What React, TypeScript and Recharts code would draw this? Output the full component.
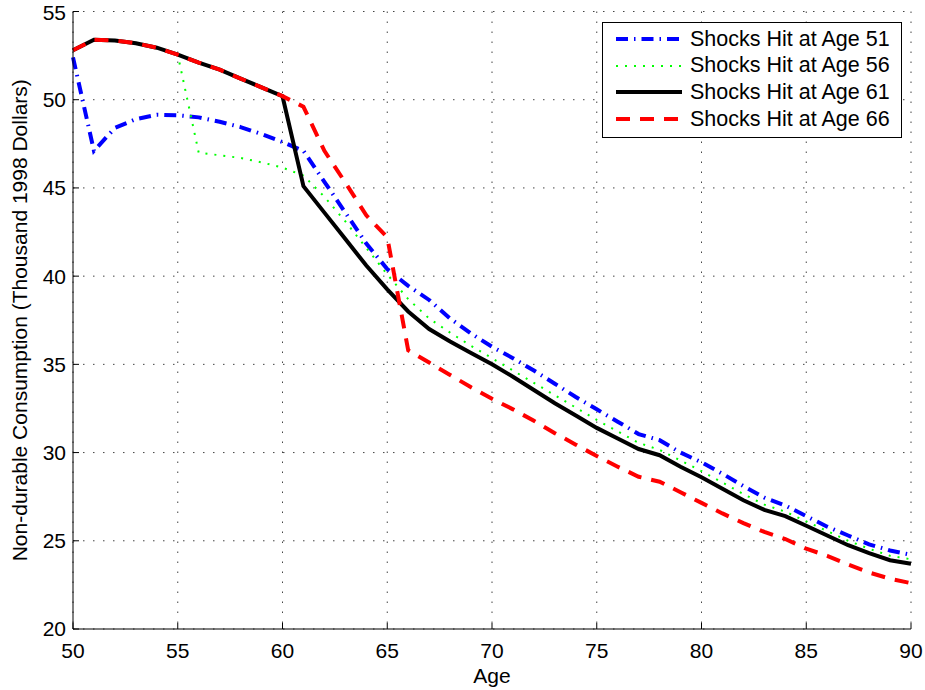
import { CartesianGrid, Line, LineChart, XAxis, YAxis } from "recharts";

const ages = [
  50, 51, 52, 53, 54, 55, 56, 57, 58, 59, 60, 61, 62, 63, 64, 65, 66, 67, 68, 69, 70,
  71, 72, 73, 74, 75, 76, 77, 78, 79, 80, 81, 82, 83, 84, 85, 86, 87, 88, 89, 90,
];

const shock51 = [
  52.4, 47.1, 48.4, 48.9, 49.15, 49.12, 49.0, 48.75, 48.45, 48.05, 47.6,
  47.1, 45.35, 43.6, 41.85, 40.4, 39.45, 38.65, 37.6, 36.75, 36.0,
  35.35, 34.65, 33.9, 33.15, 32.45, 31.75, 31.05, 30.7, 30.0, 29.45,
  28.8, 28.1, 27.45, 27.0, 26.4, 25.8, 25.3, 24.8, 24.45, 24.2,
];

const shock56 = [
  52.8, 53.4, 53.35, 53.2, 52.95, 52.55, 47.0, 46.85, 46.7, 46.45, 46.15,
  45.7, 44.5, 43.1, 41.6, 40.1, 38.7, 37.6, 36.8, 36.05, 35.35,
  34.65, 33.95, 33.25, 32.55, 31.85, 31.2, 30.55, 30.15, 29.55, 28.95,
  28.3, 27.65, 27.05, 26.65, 26.1, 25.55, 25.0, 24.55, 24.15, 23.95,
];

const shock61 = [
  52.8, 53.4, 53.35, 53.2, 52.95, 52.55, 52.1, 51.7, 51.2, 50.7, 50.2,
  45.1, 43.6, 42.1, 40.6, 39.25, 38.0, 37.0, 36.3, 35.65, 35.0,
  34.3, 33.55, 32.8, 32.1, 31.4, 30.8, 30.2, 29.85, 29.2, 28.6,
  27.95, 27.3, 26.75, 26.4, 25.85, 25.3, 24.75, 24.3, 23.9, 23.7,
];

const shock66 = [
  52.8, 53.4, 53.35, 53.2, 52.95, 52.55, 52.1, 51.7, 51.2, 50.7, 50.2,
  49.6, 47.1, 45.3, 43.45, 42.2, 35.8, 35.1, 34.4, 33.7, 33.05,
  32.45, 31.8, 31.1, 30.45, 29.8, 29.2, 28.63, 28.35, 27.75, 27.15,
  26.55, 26.0, 25.5, 25.1, 24.55, 24.15, 23.65, 23.2, 22.85, 22.6,
];

const xTicks = [50, 55, 60, 65, 70, 75, 80, 85, 90];
const yTicks = [20, 25, 30, 35, 40, 45, 50, 55];

const data = ages.map((age, i) => ({
  age,
  s51: shock51[i],
  s56: shock56[i],
  s61: shock61[i],
  s66: shock66[i],
}));

const FONT = "'Liberation Sans', Arial, Helvetica, sans-serif";
const tickStyle = { fill: "#000", fontSize: 21, fontFamily: FONT };

const series = [
  { key: "s51", name: "Shocks Hit at Age 51", color: "#0000ff", width: 4, dash: "12 6 1.5 6" },
  { key: "s56", name: "Shocks Hit at Age 56", color: "#00ff00", width: 2, dash: "2 7" },
  { key: "s61", name: "Shocks Hit at Age 61", color: "#000000", width: 4, dash: undefined },
  { key: "s66", name: "Shocks Hit at Age 66", color: "#ff0000", width: 4, dash: "14 10" },
];

// legend drawn as an overlay so the plot area keeps its full height
function LegendBox() {
  return (
    <div
      style={{
        position: "absolute",
        left: 602,
        top: 22,
        width: 298,
        height: 114,
        border: "1px solid #000",
        background: "#fff",
        fontFamily: FONT,
        fontSize: 21.5,
        color: "#000",
      }}
    >
      {series.map((s, i) => (
        <div
          key={s.key}
          style={{
            position: "absolute",
            left: 0,
            top: 3 + i * 26.7,
            height: 26,
            display: "flex",
            alignItems: "center",
            whiteSpace: "nowrap",
          }}
        >
          <svg width={80} height={26} style={{ display: "block" }}>
            <line
              x1={13}
              x2={79}
              y1={13}
              y2={13}
              stroke={s.color}
              strokeWidth={s.width}
              strokeDasharray={s.dash}
            />
          </svg>
          <span style={{ marginLeft: 7 }}>{s.name}</span>
        </div>
      ))}
    </div>
  );
}

export default function App() {
  return (
    <div style={{ position: "absolute", left: 0, top: 0, width: 925, height: 690, background: "#fff" }}>
      <LineChart width={925} height={690} data={data} margin={{ top: 11.5, right: 14, left: 0, bottom: 0 }}>
        <CartesianGrid stroke="#444" strokeDasharray="1.5 8.5" />
        <XAxis
          dataKey="age"
          type="number"
          domain={[50, 90]}
          ticks={xTicks}
          height={61}
          tickSize={-6}
          tickMargin={20}
          tick={tickStyle}
          stroke="#000"
          label={{ value: "Age", position: "insideBottom", offset: 7, fill: "#000", fontSize: 21, fontFamily: FONT }}
        />
        <XAxis
          xAxisId="top"
          dataKey="age"
          type="number"
          orientation="top"
          domain={[50, 90]}
          ticks={xTicks}
          height={0}
          tickSize={-6}
          tickFormatter={() => ""}
          stroke="#000"
        />
        <YAxis
          type="number"
          domain={[20, 55]}
          ticks={yTicks}
          width={73}
          tickSize={-6}
          tickMargin={13}
          tick={tickStyle}
          stroke="#000"
          label={{
            value: "Non-durable Consumption (Thousand 1998 Dollars)",
            angle: -90,
            position: "insideLeft",
            offset: 20,
            fill: "#000",
            fontSize: 21,
            fontFamily: FONT,
            style: { textAnchor: "middle" },
          }}
        />
        <YAxis
          yAxisId="right"
          type="number"
          orientation="right"
          domain={[20, 55]}
          ticks={yTicks}
          width={0}
          tickSize={-6}
          tickFormatter={() => ""}
          stroke="#000"
        />
        {series.map((s) => (
          <Line
            key={s.key}
            type="linear"
            dataKey={s.key}
            name={s.name}
            stroke={s.color}
            strokeWidth={s.width}
            strokeDasharray={s.dash}
            dot={false}
            activeDot={false}
            isAnimationActive={false}
          />
        ))}
      </LineChart>
      <LegendBox />
    </div>
  );
}
